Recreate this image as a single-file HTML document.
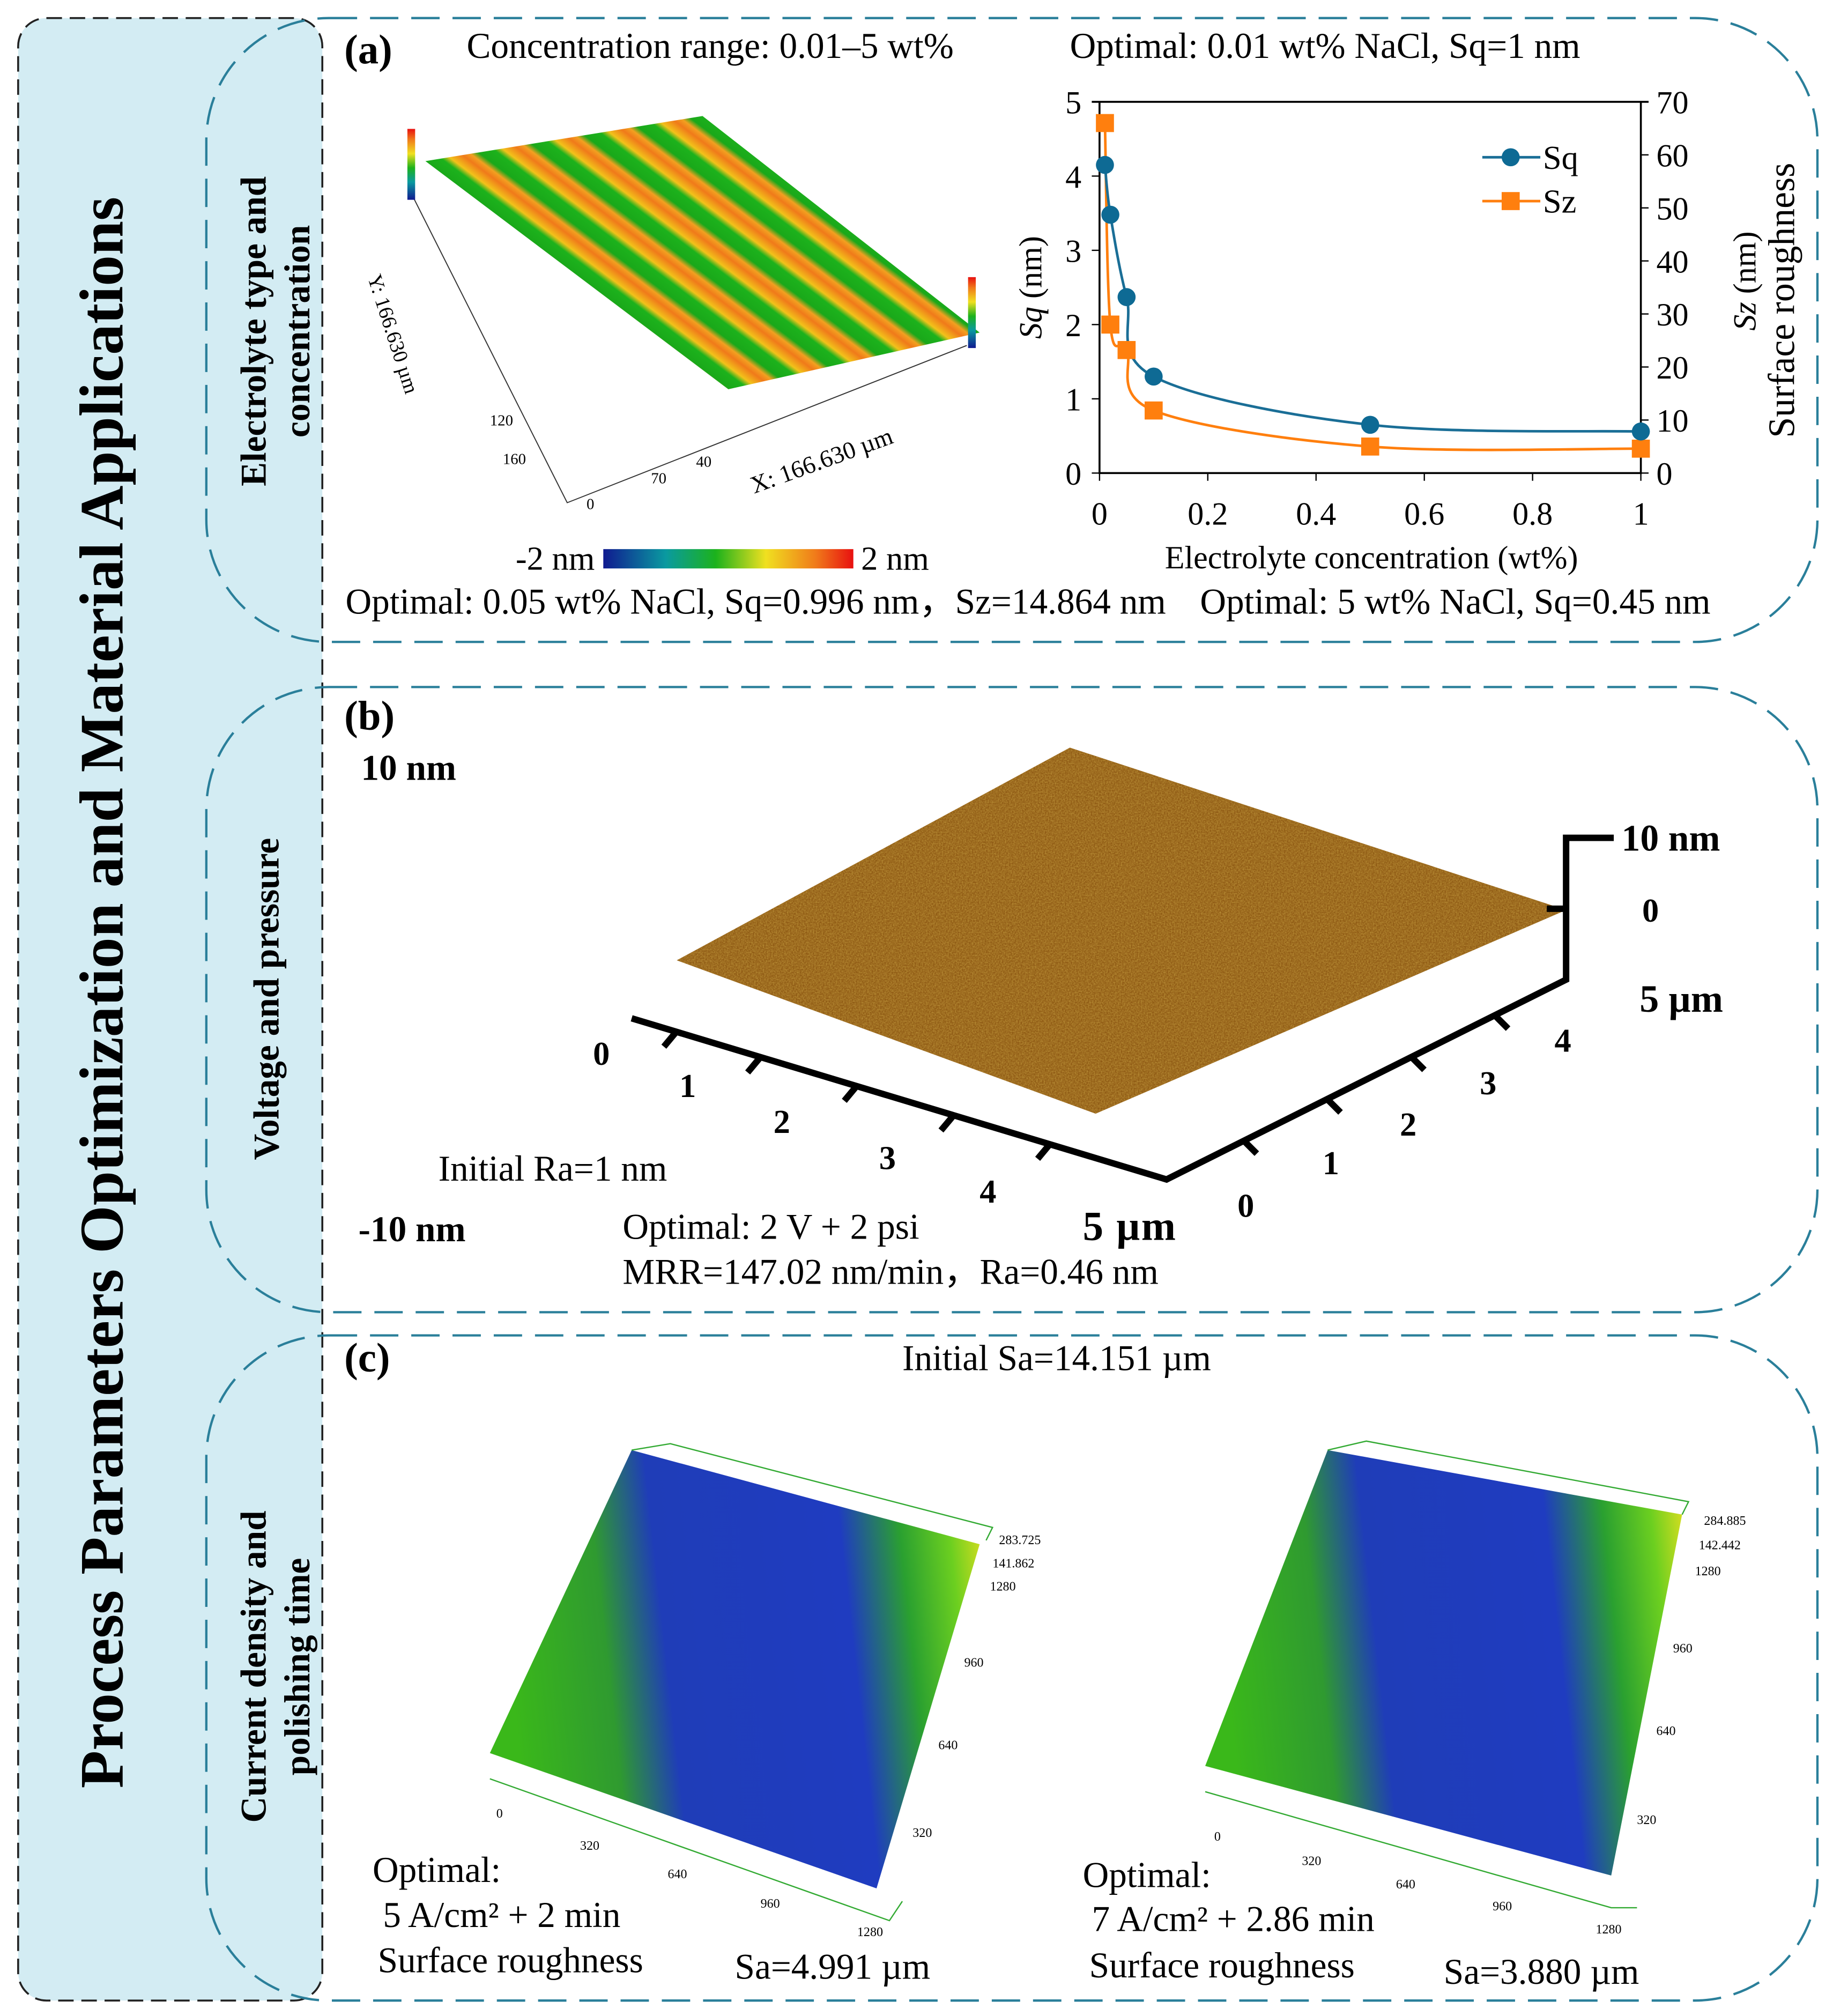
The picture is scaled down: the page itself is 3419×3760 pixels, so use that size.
<!DOCTYPE html>
<html><head><meta charset="utf-8"><style>
html,body{margin:0;padding:0;background:#fff}
svg{display:block}
text{font-family:"Liberation Serif",serif;fill:#000}
</style></head><body>
<svg width="3419" height="3760" viewBox="0 0 1422 1564" xmlns="http://www.w3.org/2000/svg">
<defs>
<linearGradient id="stripes" x1="330" y1="125" x2="348" y2="101" spreadMethod="repeat" gradientUnits="userSpaceOnUse">
<stop offset="0" stop-color="#1aa81a"/><stop offset="0.3" stop-color="#1cb21c"/><stop offset="0.45" stop-color="#f2c21a"/><stop offset="0.7" stop-color="#f07a1a"/><stop offset="0.85" stop-color="#f3a020"/><stop offset="1" stop-color="#1aa81a"/>
</linearGradient>
<linearGradient id="cbar" x1="0" x2="1" y1="0" y2="0">
<stop offset="0" stop-color="#101a90"/><stop offset="0.25" stop-color="#0a9aa0"/><stop offset="0.45" stop-color="#1cb21c"/><stop offset="0.65" stop-color="#f0e020"/><stop offset="0.85" stop-color="#f07a1a"/><stop offset="1" stop-color="#e81010"/>
</linearGradient>
<linearGradient id="cbarv" x1="0" x2="0" y1="1" y2="0">
<stop offset="0" stop-color="#101a90"/><stop offset="0.25" stop-color="#0a9aa0"/><stop offset="0.45" stop-color="#1cb21c"/><stop offset="0.65" stop-color="#f0e020"/><stop offset="0.85" stop-color="#f07a1a"/><stop offset="1" stop-color="#e81010"/>
</linearGradient>
<linearGradient id="gbl" x1="0" x2="1" y1="0.1" y2="0">
<stop offset="0" stop-color="#3ab81a"/><stop offset="0.2" stop-color="#2f9a30"/><stop offset="0.32" stop-color="#1f3db8"/><stop offset="0.7" stop-color="#1f3cc0"/><stop offset="0.82" stop-color="#2aa030"/><stop offset="0.92" stop-color="#6ccf20"/><stop offset="1" stop-color="#e8e020"/>
</linearGradient>
<filter id="noise"><feTurbulence type="fractalNoise" baseFrequency="0.9" numOctaves="2" result="n"/><feColorMatrix in="n" type="matrix" values="0 0 0 0 0.55  0 0 0 0 0.33  0 0 0 0 0.05  0 0 0 1.2 -0.3" result="c"/><feComposite in="c" in2="SourceGraphic" operator="in"/></filter>
</defs>

<rect x="14" y="14" width="236" height="1538" rx="22" fill="#d3ecf3" stroke="#222" stroke-width="1.5" stroke-dasharray="12,6"/>
<text transform="translate(95,770) rotate(-90)" text-anchor="middle" font-size="48" font-weight="bold">Process Parameters Optimization and Material Applications</text>

<g fill="none" stroke="#2a7f9a" stroke-width="1.8" stroke-dasharray="22,10">
<rect x="160" y="14" width="1250" height="484" rx="95"/>
<rect x="160" y="533" width="1250" height="485" rx="95"/>
<rect x="160" y="1036" width="1250" height="516" rx="95"/>
</g>

<text transform="translate(206,257) rotate(-90)" text-anchor="middle" font-size="28" font-weight="bold">Electrolyte type and</text>
<text transform="translate(240,257) rotate(-90)" text-anchor="middle" font-size="28" font-weight="bold">concentration</text>
<text transform="translate(216,775) rotate(-90)" text-anchor="middle" font-size="28" font-weight="bold">Voltage and pressure</text>
<text transform="translate(206,1293) rotate(-90)" text-anchor="middle" font-size="28" font-weight="bold">Current density and</text>
<text transform="translate(240,1293) rotate(-90)" text-anchor="middle" font-size="28" font-weight="bold">polishing time</text>

<!-- panel a -->
<text x="267" y="49" font-size="32" font-weight="bold">(a)</text>
<text x="362" y="45" font-size="28">Concentration range: 0.01–5 wt%</text>
<text x="830" y="45" font-size="28">Optimal: 0.01 wt% NaCl, Sq=1 nm</text>
<g>
<polygon points="330,125 545,90 760,258 565,302" fill="url(#stripes)"/>
<polyline points="318,148 440,390 750,268" fill="none" stroke="#333" stroke-width="0.8"/>
<rect x="316" y="100" width="6" height="55" fill="url(#cbarv)"/>
<rect x="751" y="215" width="6" height="55" fill="url(#cbarv)"/>
<text transform="translate(285,215) rotate(72)" font-size="16" fill="#444">Y: 166.630 µm</text>
<text transform="translate(585,383) rotate(-20)" font-size="19" fill="#444">X: 166.630 µm</text>
<text x="380" y="330" font-size="12" fill="#444">120</text><text x="390" y="360" font-size="12" fill="#444">160</text>
<text x="505" y="375" font-size="12" fill="#444">70</text><text x="540" y="362" font-size="12" fill="#444">40</text><text x="455" y="395" font-size="12" fill="#444">0</text>
</g>
<rect x="468" y="426" width="194" height="15" fill="url(#cbar)"/>
<text x="400" y="442" font-size="26">-2 nm</text>
<text x="668" y="442" font-size="26">2 nm</text>
<text x="268" y="476" font-size="28">Optimal: 0.05 wt% NaCl, Sq=0.996 nm，Sz=14.864 nm</text>
<text x="931" y="476" font-size="28">Optimal: 5 wt% NaCl, Sq=0.45 nm</text>

<g id="chart"></g>

<!-- panel b -->
<text x="267" y="566" font-size="32" font-weight="bold">(b)</text>
<text x="280" y="605" font-size="28" font-weight="bold">10 nm</text>
<text x="278" y="963" font-size="28" font-weight="bold">-10 nm</text>
<g>
<polygon points="525,745 830,580 1215,706 850,864" fill="#8f5a14"/>
<polygon points="525,745 830,580 1215,706 850,864" fill="#c88a2a" filter="url(#noise)"/>
</g>
<g stroke="#000" stroke-width="5" fill="none">
<polyline points="490,790 905,915 1215,760 1215,650 1252,650"/>
<line x1="525" y1="800" x2="515" y2="812"/><line x1="590" y1="820" x2="580" y2="832"/><line x1="665" y1="842" x2="655" y2="854"/><line x1="740" y1="865" x2="730" y2="877"/><line x1="815" y1="887" x2="805" y2="899"/>
<line x1="965" y1="885" x2="975" y2="895"/><line x1="1030" y1="853" x2="1040" y2="863"/><line x1="1095" y1="820" x2="1105" y2="830"/><line x1="1160" y1="788" x2="1170" y2="798"/>
<line x1="1200" y1="705" x2="1215" y2="705"/>
</g>
<g font-size="26" font-weight="bold">
<text x="460" y="826">0</text><text x="527" y="851">1</text><text x="600" y="879">2</text><text x="682" y="907">3</text><text x="760" y="933">4</text><text x="840" y="962" font-size="32" letter-spacing="1">5 µm</text>
<text x="960" y="944">0</text><text x="1026" y="911">1</text><text x="1086" y="881">2</text><text x="1148" y="849">3</text><text x="1206" y="816">4</text>
<text x="1272" y="785" font-size="30">5 µm</text><text x="1274" y="715">0</text><text x="1258" y="660" font-size="29">10 nm</text>
</g>
<text x="340" y="916" font-size="28">Initial Ra=1 nm</text>
<text x="483" y="961" font-size="28">Optimal: 2 V + 2 psi</text>
<text x="483" y="996" font-size="28">MRR=147.02 nm/min，Ra=0.46 nm</text>

<!-- panel c -->
<text x="267" y="1064" font-size="32" font-weight="bold">(c)</text>
<text x="700" y="1063" font-size="28">Initial Sa=14.151 µm</text>
<g>
<polygon points="380,1360 490,1125 760,1198 680,1465" fill="url(#gbl)"/>
<polyline points="380,1380 690,1490 700,1475" fill="none" stroke="#3a3" stroke-width="1"/>
<polyline points="490,1125 520,1120 770,1185 765,1195" fill="none" stroke="#3a3" stroke-width="1"/>
<g font-size="10" fill="#2a5"><text x="775" y="1198">283.725</text><text x="770" y="1216">141.862</text><text x="768" y="1234">1280</text><text x="748" y="1293">960</text><text x="728" y="1357">640</text><text x="708" y="1425">320</text><text x="450" y="1435">320</text><text x="518" y="1457">640</text><text x="590" y="1480">960</text><text x="665" y="1502">1280</text><text x="385" y="1410">0</text></g>
</g>
<g>
<polygon points="935,1370 1030,1125 1305,1175 1250,1455" fill="url(#gbl)"/>
<polyline points="935,1390 1250,1480 1270,1480" fill="none" stroke="#3a3" stroke-width="1"/>
<polyline points="1030,1125 1060,1118 1310,1165 1305,1175" fill="none" stroke="#3a3" stroke-width="1"/>
<g font-size="10" fill="#2a5"><text x="1322" y="1183">284.885</text><text x="1318" y="1202">142.442</text><text x="1315" y="1222">1280</text><text x="1298" y="1282">960</text><text x="1285" y="1346">640</text><text x="1270" y="1415">320</text><text x="1010" y="1447">320</text><text x="1083" y="1465">640</text><text x="1158" y="1482">960</text><text x="1238" y="1500">1280</text><text x="942" y="1428">0</text></g>
</g>
<text x="289" y="1460" font-size="28">Optimal:</text>
<text x="297" y="1495" font-size="28">5 A/cm² + 2 min</text>
<text x="293" y="1530" font-size="28">Surface roughness</text>
<text x="570" y="1535" font-size="28">Sa=4.991 µm</text>
<text x="840" y="1464" font-size="28">Optimal:</text>
<text x="847" y="1498" font-size="28">7 A/cm² + 2.86 min</text>
<text x="845" y="1534" font-size="28">Surface roughness</text>
<text x="1120" y="1539" font-size="28">Sa=3.880 µm</text>
</svg>
<script>
const xVals=[0.01,0.02,0.05,0.1,0.5,1];
const sqVals=[4.15,3.48,2.37,1.3,0.65,0.56];
const szVals=[66,28,23.2,11.8,5,4.6];
const xTicks=["0","0.2","0.4","0.6","0.8","1"];
const yLeftTicks=["0","1","2","3","4","5"];
const yRightTicks=["0","10","20","30","40","50","60","70"];
const NS="http://www.w3.org/2000/svg";
const g=document.getElementById('chart');
const X0=853,X1=1273,Y0=367,Y1=79;
const sx=v=>X0+(X1-X0)*v;
const syL=v=>Y0-(Y0-Y1)*v/5;
const syR=v=>Y0-(Y0-Y1)*v/70;
function mk(tag,attrs,parent){const e=document.createElementNS(NS,tag);for(const k in attrs)e.setAttribute(k,attrs[k]);(parent||g).appendChild(e);return e;}
let e;
e=mk('polyline',{points:`${X0},${Y1} ${X0},${Y0} ${X1},${Y0} ${X1},${Y1}`,fill:'none',stroke:'#000','stroke-width':1.5});


mk('line',{x1:X0-6,y1:Y1,x2:X1+6,y2:Y1,stroke:'#000','stroke-width':1.5});
xTicks.forEach((t,i)=>{const x=sx(i*0.2);mk('line',{x1:x,y1:Y0,x2:x,y2:Y0+6,stroke:'#000'});
 const tx=mk('text',{x:x,y:Y0+40,'text-anchor':'middle','font-size':25});tx.textContent=t;
 
 });
yLeftTicks.forEach((t,i)=>{const y=syL(i);mk('line',{x1:X0-6,y1:y,x2:X0,y2:y,stroke:'#000'});
 const tx=mk('text',{x:X0-14,y:y+9,'text-anchor':'end','font-size':25});tx.textContent=t;
 
 });
yRightTicks.forEach((t,i)=>{const y=syR(i*10);mk('line',{x1:X1,y1:y,x2:X1+6,y2:y,stroke:'#000'});
 const tx=mk('text',{x:X1+12,y:y+9,'font-size':25});tx.textContent=t;
 
 });
function smooth(pts){let d=`M${pts[0][0]},${pts[0][1]}`;for(let i=0;i<pts.length-1;i++){const p0=pts[Math.max(0,i-1)],p1=pts[i],p2=pts[i+1],p3=pts[Math.min(pts.length-1,i+2)];
 const c1=[p1[0]+(p2[0]-p0[0])/6,p1[1]+(p2[1]-p0[1])/6],c2=[p2[0]-(p3[0]-p1[0])/6,p2[1]-(p3[1]-p1[1])/6];
 d+=` C${c1[0]},${c1[1]} ${c2[0]},${c2[1]} ${p2[0]},${p2[1]}`;}return d;}
const sqPts=xVals.map((x,i)=>[sx(x),syL(sqVals[i])]);
const szPts=xVals.map((x,i)=>[sx(x),syR(szVals[i])]);
e=mk('path',{d:smooth(szPts),fill:'none',stroke:'#ff7f0e','stroke-width':2});


e=mk('path',{d:smooth(sqPts),fill:'none',stroke:'#1a6e96','stroke-width':2});


szPts.forEach(p=>{const r=mk('rect',{x:p[0]-7,y:p[1]-7,width:14,height:14,fill:'#ff7f0e'});
 
 });
sqPts.forEach(p=>{const c=mk('circle',{cx:p[0],cy:p[1],r:7,fill:'#0e6a94'});
 
 });
mk('line',{x1:1150,y1:122,x2:1195,y2:122,stroke:'#1a6e96','stroke-width':2});
e=mk('circle',{cx:1172,cy:122,r:7,fill:'#0e6a94'});


e=mk('text',{x:1197,y:131,'font-size':26});e.textContent='Sq';


mk('line',{x1:1150,y1:156,x2:1195,y2:156,stroke:'#ff7f0e','stroke-width':2});
e=mk('rect',{x:1165,y:149,width:14,height:14,fill:'#ff7f0e'});


e=mk('text',{x:1197,y:165,'font-size':26});e.textContent='Sz';


e=mk('text',{x:1064,y:441,'text-anchor':'middle','font-size':25});e.textContent='Electrolyte concentration (wt%)';


e=mk('text',{transform:'translate(808,223) rotate(-90)','text-anchor':'middle','font-size':25});e.innerHTML='<tspan font-style="italic">Sq</tspan> (nm)';


e=mk('text',{transform:'translate(1362,218) rotate(-90)','text-anchor':'middle','font-size':25});e.innerHTML='<tspan font-style="italic">Sz</tspan> (nm)';


e=mk('text',{transform:'translate(1392,233) rotate(-90)','text-anchor':'middle','font-size':29,'font-family':'Liberation Sans, sans-serif'});e.textContent='Surface roughness';


</script>
</body></html>
